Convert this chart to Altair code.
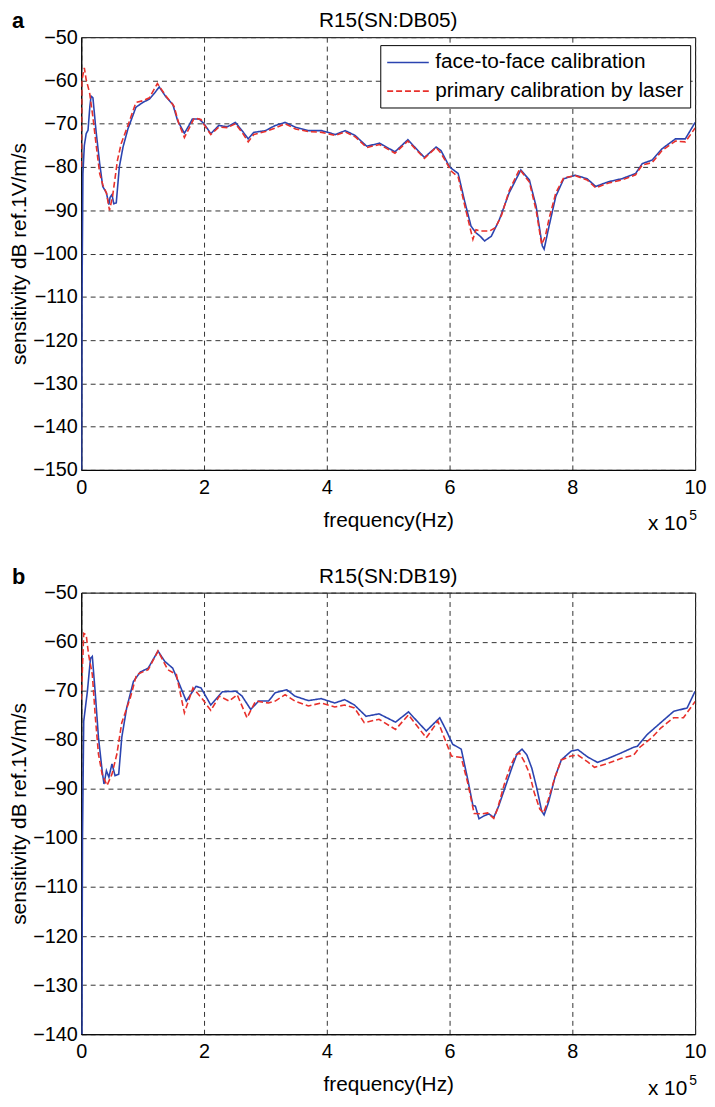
import altair as alt
import pandas as pd

FONT = "Liberation Sans"
SER_F = "face-to-face calibration"
SER_L = "primary calibration by laser"
BLUE = "#2b44b0"
RED = "#e8302b"

# ---- Panel a : R15(SN:DB05) ----  (frequency in units of 1e5 Hz, sensitivity in dB)
a_ftf_x = [0.005, 0.012, 0.02, 0.027, 0.05, 0.08, 0.11, 0.14, 0.16, 0.19, 0.24, 0.30, 0.35, 0.41, 0.45,
           0.47, 0.50, 0.53, 0.57, 0.62, 0.68, 0.76, 0.89, 1.0, 1.11, 1.2, 1.27, 1.38, 1.49, 1.57, 1.68,
           1.75, 1.81, 1.92, 2.0, 2.11, 2.24, 2.38, 2.51, 2.62, 2.72, 2.81, 3.0, 3.16, 3.32, 3.49, 3.70,
           3.92, 4.14, 4.30, 4.46, 4.65, 4.86, 5.11, 5.32, 5.59, 5.78, 5.86, 6.0, 6.14, 6.24, 6.35, 6.43,
           6.5, 6.57, 6.68, 6.81, 6.97, 7.16, 7.30, 7.41, 7.51, 7.54, 7.62, 7.73, 7.86, 8.05, 8.24, 8.38,
           8.59, 8.81, 9.03, 9.14, 9.30, 9.46, 9.68, 9.84, 10.0]
a_ftf_y = [-150, -110, -95, -81.5, -75, -72.3, -71.5, -66, -63.6, -64, -71.6, -79.2, -84.5, -86, -88.7,
           -87, -86.4, -88.5, -88.3, -80, -75.4, -71.2, -66.2, -65.1, -64.3, -62.8, -61.5, -63.8, -65.5, -69.3, -72.2,
           -70.5, -68.9, -68.9, -70, -72.3, -70.4, -70.7, -69.7, -71.6, -73.5, -72, -71.6, -70.4, -69.7, -70.8, -71.6,
           -71.6, -72.5, -71.6, -72.7, -75.2, -74.5, -76.5, -73.7, -77.8, -75.4, -76.2, -80, -81.5, -87.6, -93.7, -95.2,
           -96, -97.1, -96, -92.2, -86, -80.7, -83, -89.1, -98.2, -99, -93.7, -86.8, -82.7, -81.9, -82.7, -84.5,
           -83.4, -82.7, -81.5, -79.2, -78.4, -75.8, -73.5, -73.5, -69.7]

a_las_x = [0.0, 0.01, 0.05, 0.08, 0.135, 0.19, 0.24, 0.30, 0.35, 0.41, 0.46, 0.51, 0.59, 0.65, 0.76,
           0.89, 1.0, 1.11, 1.24, 1.38, 1.51, 1.59, 1.68, 1.84, 1.95, 2.0, 2.11, 2.24, 2.38, 2.51, 2.62,
           2.72, 2.81, 3.0, 3.16, 3.32, 3.49, 3.70, 3.92, 4.14, 4.30, 4.46, 4.65, 4.86, 5.11, 5.32, 5.59,
           5.78, 5.86, 6.03, 6.14, 6.24, 6.35, 6.38, 6.43, 6.5, 6.65, 6.75, 6.85, 6.97, 7.14, 7.30, 7.41,
           7.50, 7.56, 7.62, 7.73, 7.86, 8.05, 8.24, 8.38, 8.59, 8.81, 9.03, 9.14, 9.30, 9.46, 9.68, 9.84, 10.0]
a_las_y = [-80, -60, -57.1, -59.8, -62.8, -68.5, -74.6, -81.5, -84.1, -86, -90, -86.8, -78.4, -74.6, -70.4,
           -65.1, -64.7, -64, -60.7, -63.6, -65.9, -70, -73.2, -68.7, -69, -70.2, -72.5, -70.8, -70.9, -70, -72,
           -74.2, -72.5, -71.8, -71, -70, -71.2, -71.8, -72, -72.7, -71.9, -73, -75.5, -74.8, -76.8, -74, -78,
           -75.5, -76.8, -81, -82.3, -88.5, -95, -96.7, -94.5, -94.8, -94.8, -94, -91, -85.5, -80.5, -83.5, -90,
           -97.9, -96, -92, -86, -82.5, -82, -83, -84.8, -83.7, -83, -81.8, -79.5, -79, -76.2, -74, -74.2, -71]

# ---- Panel b : R15(SN:DB19) ----
b_ftf_x = [0.01, 0.02, 0.04, 0.1, 0.15, 0.18, 0.23, 0.28, 0.34, 0.37, 0.41, 0.45, 0.50, 0.55, 0.61,
           0.66, 0.74, 0.85, 0.96, 1.09, 1.25, 1.36, 1.49, 1.6, 1.71, 1.87, 1.95, 2.11, 2.3, 2.52, 2.62,
           2.76, 2.89, 3.05, 3.16, 3.35, 3.48, 3.7, 3.91, 4.13, 4.29, 4.45, 4.64, 4.85, 5.12, 5.33, 5.62,
           5.84, 5.95, 6.05, 6.19, 6.3, 6.38, 6.42, 6.48, 6.56, 6.64, 6.72, 6.80, 6.91, 7.02, 7.10, 7.18,
           7.26, 7.34, 7.42, 7.50, 7.54, 7.61, 7.72, 7.82, 7.98, 8.09, 8.25, 8.41, 8.58, 8.79, 9.0, 9.06,
           9.22, 9.44, 9.65, 9.87, 10.0]
b_ftf_y = [-140, -100, -76.2, -70.1, -63.4, -63, -70.8, -79.5, -86.3, -89, -86.3, -87.6, -84.9, -87.3, -87,
           -79.5, -73.5, -68.1, -66.2, -65.4, -61.9, -64, -65.4, -68.7, -72.1, -69.1, -69.4, -72.9, -70.2, -70.1, -71.1,
           -73.8, -72.1, -72.1, -70.4, -69.8, -71.1, -72, -71.6, -72.5, -71.8, -72.9, -75.2, -74.7, -76.4, -74.3, -78.2,
           -75.5, -78.2, -80.9, -81.9, -88.3, -93.4, -93.5, -96.1, -95.5, -95.1, -95.8, -93.5, -89.5, -85.5, -82.8, -81.9,
           -83.1, -85.8, -89.8, -94.5, -95.3, -92.8, -87.5, -84.1, -82.3, -82, -83.5, -84.6, -83.8, -82.7, -81.5, -81.3,
           -78.9, -76.5, -74.2, -73.5, -70.1]

b_las_x = [0.0, 0.04, 0.08, 0.12, 0.18, 0.23, 0.28, 0.34, 0.42, 0.5, 0.58, 0.66, 0.80, 0.90, 1.09,
           1.25, 1.41, 1.55, 1.68, 1.82, 1.98, 2.11, 2.25, 2.41, 2.54, 2.70, 2.84, 3.05, 3.16, 3.32, 3.48,
           3.70, 3.91, 4.13, 4.29, 4.45, 4.61, 4.85, 5.12, 5.33, 5.62, 5.81, 6.03, 6.19, 6.3, 6.4, 6.52,
           6.62, 6.72, 6.78, 6.89, 7.0, 7.08, 7.14, 7.22, 7.30, 7.38, 7.47, 7.53, 7.61, 7.72, 7.82, 7.98,
           8.09, 8.25, 8.36, 8.58, 8.79, 9.0, 9.1, 9.30, 9.44, 9.65, 9.81, 10.0]
b_las_y = [-71.8, -58.3, -58.6, -62.7, -66.7, -75.5, -82.9, -87, -89.3, -87, -82.9, -76.5, -71.4, -66.7, -65.7,
           -61.9, -65.7, -66.7, -74.5, -69.4, -71.8, -74, -71.1, -72.1, -70.8, -75.5, -72.1, -72.5, -72.1, -70.8, -72.1,
           -73.1, -72.5, -73.3, -72.9, -73.5, -76.5, -75.8, -77.9, -74.9, -79.6, -76.2, -83.3, -83.6, -89, -95, -95.1,
           -94.9, -96, -94.1, -89.1, -85.1, -83.1, -82.7, -84.5, -86.8, -90.8, -94.1, -94.9, -92.1, -87.5, -84.1, -83.3,
           -83.1, -84.5, -85.6, -84.8, -83.8, -83.1, -81.5, -79.5, -77.6, -75.5, -75.5, -72.2]

x_ticks = [0, 2, 4, 6, 8, 10]
W = 620


def make_df(fx, fy, lx, ly):
    return pd.concat([
        pd.DataFrame({"f": fx, "s": fy, "series": SER_F}),
        pd.DataFrame({"f": lx, "s": ly, "series": SER_L}),
    ], ignore_index=True)


def label(txt, x, y, size=21, weight="normal", align="center", baseline="middle"):
    return alt.Chart(pd.DataFrame({"t": [txt]})).mark_text(
        font=FONT, fontSize=size, fontWeight=weight, align=align, baseline=baseline, color="black"
    ).encode(text="t:N", x=alt.value(x), y=alt.value(y))


def panel(df, title, letter, ymin, height):
    legend = alt.Legend(
        title=None, orient="none", legendX=302, legendY=8,
        symbolType="M-2,0H2", symbolSize=441, symbolStrokeWidth=1.6, symbolOffset=10.5,
        labelFont=FONT, labelFontSize=21, labelColor="black", labelOffset=16,
        strokeColor="black", fillColor="white", padding=6, rowPadding=7,
        labelLimit=400,
    )
    lines = alt.Chart(df).mark_line(strokeWidth=1.6, clip=True).encode(
        x=alt.X("f:Q", scale=alt.Scale(domain=[0, 10], nice=False, zero=False),
                axis=alt.Axis(values=x_ticks, title="frequency(Hz)", format="d")),
        y=alt.Y("s:Q", scale=alt.Scale(domain=[ymin, -50], nice=False, zero=False),
                axis=alt.Axis(values=list(range(ymin, -49, 10)), title="sensitivity dB ref.1V/m/s", format="d")),
        color=alt.Color("series:N", scale=alt.Scale(domain=[SER_F, SER_L], range=[BLUE, RED]), legend=legend),
        strokeDash=alt.StrokeDash("series:N", scale=alt.Scale(domain=[SER_F, SER_L], range=[[1, 0], [6, 3]]),
                                  legend=legend),
    )
    tag = label(letter, -70, -16, size=22, weight="bold", align="left")
    ttl = label(title, W / 2, -16)
    mult = label("x 10", W - 8, height + 61, align="right", baseline="alphabetic")
    expo = label("5", W - 6, height + 51, size=14, align="left", baseline="alphabetic")
    return alt.layer(lines, tag, ttl, mult, expo).properties(width=W, height=height)


pa = panel(make_df(a_ftf_x, a_ftf_y, a_las_x, a_las_y), "R15(SN:DB05)", "a", -150, 437)
pb = panel(make_df(b_ftf_x, b_ftf_y, b_las_x, b_las_y), "R15(SN:DB19)", "b", -140, 446)

chart = alt.vconcat(pa, pb, spacing=30).properties(
    padding={"top": -4, "left": 0, "right": 0, "bottom": 0}, background="white"
).configure_axis(
    labelFont=FONT, labelFontSize=20, labelColor="black", labelFlush=False,
    titleFont=FONT, titleFontSize=21, titleFontWeight="normal", titleColor="black",
    grid=True, gridColor="#333333", gridDash=[5, 4], gridWidth=1, gridOpacity=1,
    domainColor="black", domainWidth=1, ticks=False,
    labelPadding=4, titlePadding=3,
).configure_axisX(labelPadding=8, titlePadding=12).configure_view(
    stroke="black", strokeWidth=1
)

chart.save("out.html", embed_options={"renderer": "svg", "actions": False})
